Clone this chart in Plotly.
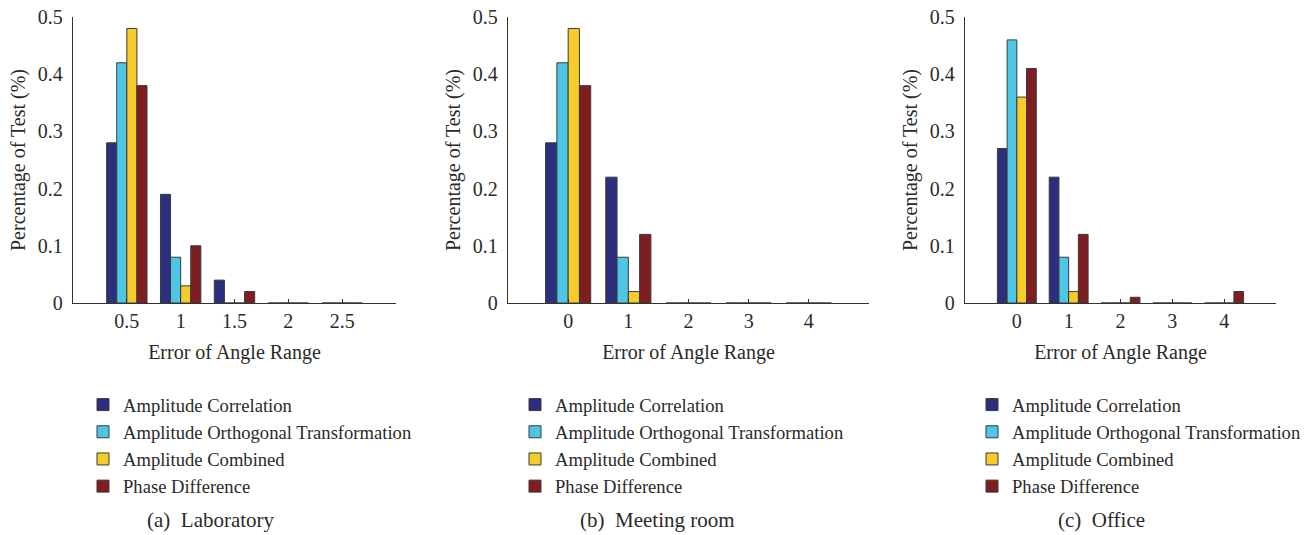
import plotly.graph_objects as go

# ---- data ----
series_names = ["Amplitude Correlation", "Amplitude Orthogonal Transformation",
                "Amplitude Combined", "Phase Difference"]
colors = ["#2C2E7E", "#4DC7E5", "#F6CB2C", "#7E1E20"]

lab_x = [0.5, 1, 1.5, 2, 2.5]
lab_corr = [0.28, 0.19, 0.04, 0, 0]
lab_orth = [0.42, 0.08, 0, 0, 0]
lab_comb = [0.48, 0.03, 0, 0, 0]
lab_phase = [0.38, 0.10, 0.02, 0, 0]

meet_x = [0, 1, 2, 3, 4]
meet_corr = [0.28, 0.22, 0, 0, 0]
meet_orth = [0.42, 0.08, 0, 0, 0]
meet_comb = [0.48, 0.02, 0, 0, 0]
meet_phase = [0.38, 0.12, 0, 0, 0]

off_x = [0, 1, 2, 3, 4]
off_corr = [0.27, 0.22, 0, 0, 0]
off_orth = [0.46, 0.08, 0, 0, 0]
off_comb = [0.36, 0.02, 0, 0, 0]
off_phase = [0.41, 0.12, 0.01, 0, 0.02]

panel_titles = ["(a)  Laboratory", "(b)  Meeting room", "(c)  Office"]
x_ticks_lab = [0.5, 1, 1.5, 2, 2.5]
x_ticks_other = [0, 1, 2, 3, 4]
y_ticks = [0, 0.1, 0.2, 0.3, 0.4, 0.5]

panels = [
    (lab_x, [lab_corr, lab_orth, lab_comb, lab_phase], x_ticks_lab, [0, 3]),
    (meet_x, [meet_corr, meet_orth, meet_comb, meet_phase], x_ticks_other, [-1, 5]),
    (off_x, [off_corr, off_orth, off_comb, off_phase], x_ticks_other, [-1, 5]),
]

W, H = 1315, 535
FONT = "Liberation Serif"
TXT = "#2a2a2a"

x_dom_px = [(73, 396), (508, 869), (965, 1276)]
y_dom_px = (17, 303)
legend_x_px = [83, 515, 972]
title_cx_px = [211, 657, 1101]

fig = go.Figure()
legend_names = ["legend", "legend2", "legend3"]
for i, (xs, vals, ticks, rng) in enumerate(panels):
    sfx = "" if i == 0 else str(i + 1)
    for name, v, c in zip(series_names, vals, colors):
        fig.add_trace(go.Bar(
            x=xs, y=v, name=name,
            marker=dict(color=c, line=dict(color="#3a3a3a", width=1)),
            xaxis="x" + sfx, yaxis="y" + sfx,
            legend=legend_names[i],
        ))

layout = dict(
    template="none",
    width=W, height=H,
    margin=dict(l=0, r=0, t=0, b=0),
    paper_bgcolor="white", plot_bgcolor="white",
    barmode="group", bargap=0.25, bargroupgap=0,
    font=dict(family=FONT, color=TXT, size=20),
    showlegend=True,
    annotations=[],
)

for i, (xs, vals, ticks, rng) in enumerate(panels):
    sfx = "" if i == 0 else str(i + 1)
    x0, x1 = x_dom_px[i]
    layout["xaxis" + sfx] = dict(
        domain=[x0 / W, x1 / W], range=rng, anchor="y" + sfx,
        automargin=False,
        tickmode="array", tickvals=ticks, ticktext=[f"{t:g}" for t in ticks],
        ticks="inside", ticklen=4, tickcolor="#333", tickwidth=1,
        showline=True, linecolor="#333", linewidth=1.3,
        showgrid=False, zeroline=False,
        tickfont=dict(family=FONT, size=20, color=TXT),
        ticklabelstandoff=0,
        title=dict(text="Error of Angle Range", font=dict(family=FONT, size=20, color=TXT), standoff=13),
        fixedrange=True,
    )
    layout["yaxis" + sfx] = dict(
        domain=[1 - y_dom_px[1] / H, 1 - y_dom_px[0] / H], range=[0, 0.5],
        anchor="x" + sfx,
        automargin=False,
        tickmode="array", tickvals=y_ticks, ticktext=[f"{t:g}" for t in y_ticks],
        ticks="", showline=True, linecolor="#333", linewidth=1.3,
        showgrid=False, zeroline=False,
        tickfont=dict(family=FONT, size=20, color=TXT),
        ticklabelstandoff=5,
        title=dict(text="Percentage of Test (%)", font=dict(family=FONT, size=20, color=TXT), standoff=6),
        fixedrange=True,
    )
    layout[legend_names[i]] = dict(
        x=legend_x_px[i] / W, xanchor="left",
        y=1 - 386 / H, yanchor="top",
        bgcolor="rgba(0,0,0,0)", borderwidth=0,
        font=dict(family=FONT, size=18.6, color=TXT),
        itemclick=False, itemdoubleclick=False,
    )
    layout["annotations"].append(dict(
        text=panel_titles[i], x=title_cx_px[i] / W, y=1 - 520 / H,
        xref="paper", yref="paper", xanchor="center", yanchor="middle",
        showarrow=False, font=dict(family=FONT, size=21, color=TXT),
    ))

fig.update_layout(**layout)
fig.write_html(
    "out.html",
    config={"displayModeBar": False},
    post_script="document.body.style.margin='0';document.body.style.overflow='hidden';",
)
